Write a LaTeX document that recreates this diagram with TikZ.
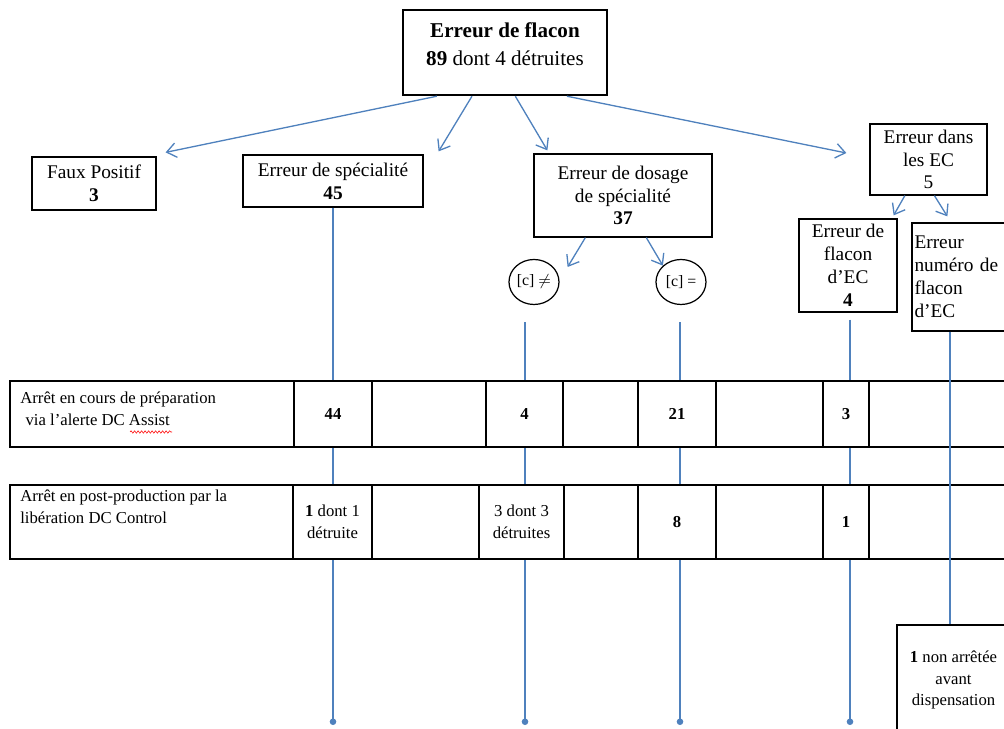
\documentclass[tikz,border=0pt]{standalone}
\usepackage{fontspec}
\setmainfont{Liberation Serif}
\usetikzlibrary{arrows.meta, calc, shapes.geometric, decorations.pathmorphing}
\definecolor{linkblue}{RGB}{79,129,189}
\tikzset{
	box/.style={draw, line width=0.7pt, align=center, inner sep=0pt, font=\fontsize{11}{13}\selectfont},
	bubble/.style={draw, ellipse, line width=0.7pt, minimum width=10mm, minimum height=9mm, inner sep=0pt, font=\fontsize{9}{11}\selectfont},
	cell/.style={draw, line width=0.7pt, fill=white, align=center, inner sep=0pt, font=\fontsize{9.5}{12.5}\selectfont},
	cell-text/.style={anchor=north west, align=left, inner sep=0pt, font=\fontsize{9.5}{12.5}\selectfont},
	link/.style={draw=linkblue, line width=0.75pt},
	arrow-link/.style={link, -{Straight Barb[length=1.9mm, width=2.9mm]}},
	end-link/.style={link, -{Circle[length=1.3mm]}},
	spell-wave/.style={draw=red, line width=0.3pt, decorate, decoration={snake, amplitude=0.25mm, segment length=0.7mm}}
}

\begin{document}
\begin{tikzpicture}[x=0.2mm, y=-0.2mm]
				\useasboundingbox (0,0) rectangle (1004,729);

				\node[draw, line width=1.4pt, minimum width=40.8mm, minimum height=17mm] at (505,52.5) (flacon) {};
				\node[align=center, font=\fontsize{12}{16}\selectfont] at (505,44) (flacon-text) {\textbf{Erreur de flacon}\\\textbf{89} dont 4 détruites};

				\node[box, minimum width=24.8mm, minimum height=10.6mm] at (94,183.5) (faux-positif) {Faux Positif\\\textbf{3}};
				\node[box, minimum width=36mm, minimum height=10.4mm] at (333,181) (specialite) {Erreur de spécialité\\\textbf{45}};
				\node[box, minimum width=35.6mm, minimum height=16.6mm] at (623,195.5) (dosage) {Erreur de dosage\\de spécialité\\\textbf{37}};
				\node[box, minimum width=23.4mm, minimum height=14.2mm] at (928.5,159.5) (erreur-ec) {Erreur dans\\les EC\\5};
				\node[box, minimum width=19.6mm, minimum height=18.6mm] at (848,265.5) (flacon-ec) {Erreur de\\flacon\\d’EC\\\textbf{4}};
				\node[box, minimum width=19.6mm, minimum height=21.6mm, text width=18.6mm, align=left] at (961,277) (numero-ec) {Erreur\\numéro de\\flacon\\d’EC};

				\node[bubble] at (534,282) (conc-diff) {[c] $\neq$};
				\node[bubble] at (681,282) (conc-egal) {[c] =};

				\draw[arrow-link] ($(flacon.south west)!0.17!(flacon.south east)$) -- ([xshift=1.8mm, yshift=0.8mm]faux-positif.north east);
				\draw[arrow-link] ($(flacon.south west)!0.34!(flacon.south east)$) -- ([xshift=3mm, yshift=0.6mm]specialite.north east);
				\draw[arrow-link] ($(flacon.south west)!0.55!(flacon.south east)$) -- ([xshift=2.8mm, yshift=0.6mm]dosage.north west);
				\draw[arrow-link] ($(flacon.south west)!0.80!(flacon.south east)$) -- ([xshift=-4.6mm, yshift=1.3mm]erreur-ec.west);
				\draw[arrow-link] ($(dosage.south west)!0.29!(dosage.south east)$) -- ([xshift=1.6mm, yshift=3mm]conc-diff.east);
				\draw[arrow-link] ($(dosage.south west)!0.63!(dosage.south east)$) -- (conc-egal.north west);
				\draw[arrow-link] ($(erreur-ec.south west)!0.30!(erreur-ec.south east)$) -- ([xshift=-0.8mm, yshift=0.6mm]flacon-ec.north east);
				\draw[arrow-link] ($(erreur-ec.south west)!0.55!(erreur-ec.south east)$) -- ([xshift=7.2mm, yshift=1.2mm]numero-ec.north west);

				\coordinate (specialite-end) at (333,725);
				\coordinate (conc-diff-end) at (525,725);
				\coordinate (conc-egal-end) at (680,725);
				\coordinate (flacon-ec-end) at (850,725);
				\coordinate (numero-foot) at (950,625);

				\draw[end-link] (specialite.south) -- (specialite-end);
				\draw[end-link, shorten <=3.4mm] (conc-diff.south -| conc-diff-end) -- (conc-diff-end);
				\draw[end-link, shorten <=3.4mm] (conc-egal.south -| conc-egal-end) -- (conc-egal-end);
				\draw[end-link, shorten <=1.4mm] (flacon-ec.south -| flacon-ec-end) -- (flacon-ec-end);

				\node[cell, minimum width=56.8mm, minimum height=13.2mm] at (152,414) (prep-label) {};
				\node[cell, minimum width=15.6mm, minimum height=13.2mm] at (333,414) (prep-specialite) {\textbf{44}};
				\node[cell, minimum width=22.8mm, minimum height=13.2mm] at (429,414) (prep-gap-1) {};
				\node[cell, minimum width=15.4mm, minimum height=13.2mm] at (524.5,414) (prep-diff) {\textbf{4}};
				\node[cell, minimum width=15mm, minimum height=13.2mm] at (600.5,414) (prep-gap-2) {};
				\node[cell, minimum width=15.6mm, minimum height=13.2mm] at (677,414) (prep-egal) {\textbf{21}};
				\node[cell, minimum width=21.4mm, minimum height=13.2mm] at (769.5,414) (prep-gap-3) {};
				\node[cell, minimum width=9.2mm, minimum height=13.2mm] at (846,414) (prep-flacon-ec) {\textbf{3}};
				\node[cell, minimum width=28.2mm, minimum height=13.2mm] at (939.5,414) (prep-gap-4) {};
				\node[cell-text] at (20,392) (prep-text) {Arrêt en cours de préparation\\\hspace{3pt}via l’alerte DC Assist};
				\draw[spell-wave] (130,432) -- (172,432);

				\node[cell, minimum width=56.6mm, minimum height=14.8mm] at (151.5,522) (post-label) {};
				\node[cell, minimum width=15.8mm, minimum height=14.8mm] at (332.5,522) (post-specialite) {\textbf{1} dont 1\\détruite};
				\node[cell, minimum width=21.4mm, minimum height=14.8mm] at (425.5,522) (post-gap-1) {};
				\node[cell, minimum width=17mm, minimum height=14.8mm] at (521.5,522) (post-diff) {3 dont 3\\détruites};
				\node[cell, minimum width=14.8mm, minimum height=14.8mm] at (601,522) (post-gap-2) {};
				\node[cell, minimum width=15.6mm, minimum height=14.8mm] at (677,522) (post-egal) {\textbf{8}};
				\node[cell, minimum width=21.4mm, minimum height=14.8mm] at (769.5,522) (post-gap-3) {};
				\node[cell, minimum width=9.2mm, minimum height=14.8mm] at (846,522) (post-flacon-ec) {\textbf{1}};
				\node[cell, minimum width=28.2mm, minimum height=14.8mm] at (939.5,522) (post-gap-4) {};
				\node[cell-text] at (20,490) (post-text) {Arrêt en post-production par la\\libération DC Control};

				\node[box, font=\fontsize{9.5}{12}\selectfont, minimum width=22.6mm, minimum height=22mm] at (953.5,680) (non-arretee) {\textbf{1} non arrêtée\\avant\\dispensation};

				\draw[link] (numero-ec.south -| numero-foot) -- (numero-foot |- non-arretee.north);
\end{tikzpicture}
\end{document}
